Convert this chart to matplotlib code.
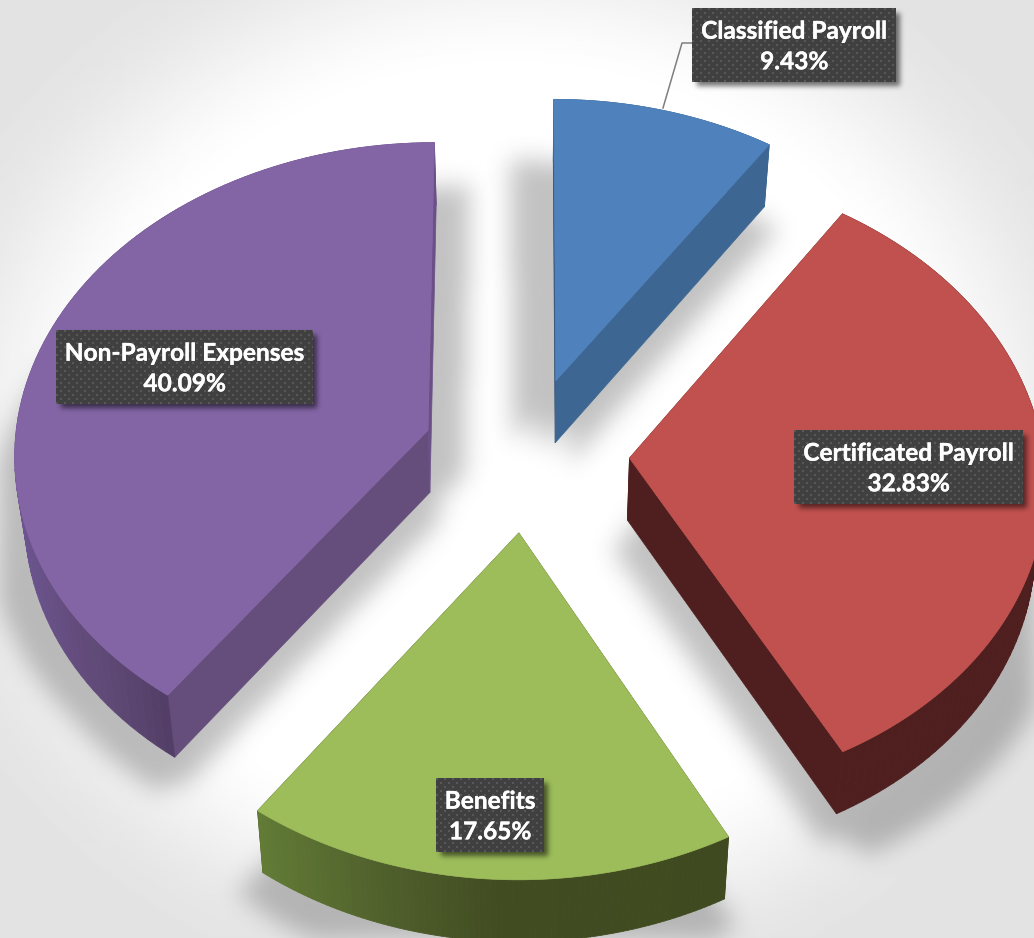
import numpy as np
import matplotlib
matplotlib.use("Agg")
import matplotlib.pyplot as plt
import matplotlib.patheffects as pe
from matplotlib.path import Path
from matplotlib.collections import PolyCollection
from matplotlib.patches import Polygon

# ---- data ----
categories = ["Classified Payroll", "Certificated Payroll", "Benefits", "Non-Payroll Expenses"]
shares = [9.43, 32.83, 17.65, 40.09]

# ---- styling ----
top_colors = ["#4F81BD", "#C1514E", "#9DBD5B", "#8365A5"]
start_cut = ["#2F4F73", "#4E1F1E", "#3F4A20", "#654E7C"]
end_cut = ["#3D6792", "#4E1F1E", "#3F4A20", "#6B5088"]
wall_stops = [
    ([0, 1034], ["#3D6792", "#3D6792"]),
    ([0, 1034], ["#4E1F1E", "#4E1F1E"]),
    ([258, 380, 500, 727], ["#627B36", "#50602C", "#414C21", "#3F4A20"]),
    ([13, 60, 120, 175, 178, 1034], ["#6C5490", "#654E80", "#5C4772", "#4F3B63", "#6B5088", "#6B5088"]),
]
shadow_shifts = [
    [(-42, 0), (-15, 10), (14, 22)],
    [(-14, 30), (14, 34), (30, 42)],
    [(-26, 22), (0, 40), (12, 28)],
    [(34, -18), (8, 30), (-14, 36), (-36, 12)],
]
label_boxes = [(692, 8, 896, 82), (794, 430, 1023, 504), (436, 778, 544, 852), (56, 330, 313, 404)]

W, H = 1034, 938
CX, CY, RX, RY, PERSP, EXPLODE = 526.0, 454.0, 414.0, 311.0, 0.07, 0.25
DEPTH, BOTTOM_SCALE = 62.0, 0.98


def project(X, Y):
    s = 1.0 / (1.0 + PERSP * Y)
    return CX + RX * X * s, CY - RY * Y * s


def to_bottom(x, y):
    return CX + (x - CX) * BOTTOM_SCALE, y + DEPTH


def hex_rgb(c):
    return np.array(matplotlib.colors.to_rgb(c))


def blur(a, sigma):
    h, w = a.shape
    fy = np.fft.fftfreq(h)[:, None]
    fx = np.fft.rfftfreq(w)[None, :]
    g = np.exp(-2 * (np.pi * sigma) ** 2 * (fx ** 2 + fy ** 2))
    return np.fft.irfft2(np.fft.rfft2(a) * g, s=a.shape)


# slice geometry derived from the values
total = sum(shares)
edges = np.concatenate([[0], np.cumsum(shares)]) / total * 2 * np.pi
slices = []
for i in range(len(shares)):
    a0, a1 = edges[i], edges[i + 1]
    mid = (a0 + a1) / 2
    ox, oy = EXPLODE * np.sin(mid), EXPLODE * np.cos(mid)
    th = np.linspace(a0, a1, 90)
    arc_x, arc_y = project(ox + np.sin(th), oy + np.cos(th))
    ax_, ay_ = project(ox, oy)
    slices.append(dict(arc_x=arc_x, arc_y=arc_y, apex=(ax_, ay_)))

# ---- background with soft shadows ----
STEP = 2
gx, gy = np.meshgrid(np.arange(0, W + 2, STEP), np.arange(0, H + 2, STEP))
t = np.hypot((gx - 510) / 520.0, (gy - 450) / 470.0)
u = np.clip((t - 0.78) / 0.42, 0, 1)
bg = 255 - 27 * u * u * (3 - 2 * u)
pts = np.column_stack([gx.ravel(), gy.ravel()])
pad = 64
shadow = np.zeros(gx.shape)
for i, s in enumerate(slices):
    bx, by = to_bottom(s["arc_x"], s["arc_y"])
    apx, apy = to_bottom(*s["apex"])
    px = np.r_[apx, bx]
    py = np.r_[apy, by]
    mask = np.zeros(gx.shape)
    for dx, dy in shadow_shifts[i]:
        p = Path(np.column_stack([px + dx, py + dy]))
        mask = np.maximum(mask, p.contains_points(pts).reshape(gx.shape).astype(float))
    m = np.pad(mask, pad, mode="constant")
    m = blur(m, 12.0 / STEP)[pad:-pad, pad:-pad]
    shadow = np.maximum(shadow, m)
bg = bg * (1 - 0.24 * np.clip(shadow, 0, 1))

fig = plt.figure(figsize=(W / 100, H / 100), dpi=100)
ax = fig.add_axes([0, 0, 1, 1])
ax.imshow(bg, cmap="gray", vmin=0, vmax=255, extent=(-1, W + 1, H + 1, -1),
          interpolation="bilinear", zorder=0, aspect="auto")

# ---- slices ----
for i, s in enumerate(slices):
    ax_, ay_ = s["apex"]
    ab = to_bottom(ax_, ay_)
    tx, ty = s["arc_x"], s["arc_y"]
    bx, by = to_bottom(tx, ty)
    # radial cut faces
    ax.add_patch(Polygon([(ax_, ay_), ab, (bx[0], by[0]), (tx[0], ty[0])],
                         fc=start_cut[i], ec=start_cut[i], lw=0.5, zorder=2))
    ax.add_patch(Polygon([(ax_, ay_), ab, (bx[-1], by[-1]), (tx[-1], ty[-1])],
                         fc=end_cut[i], ec=end_cut[i], lw=0.5, zorder=2))
    # rim wall as thin quads so it can carry a horizontal gradient
    xs, cols = wall_stops[i]
    rgb = np.array([hex_rgb(c) for c in cols])
    quads, colors = [], []
    for j in range(len(tx) - 1):
        quads.append([(tx[j], ty[j]), (tx[j + 1], ty[j + 1]), (bx[j + 1], by[j + 1]), (bx[j], by[j])])
        xm = (tx[j] + tx[j + 1]) / 2
        colors.append([np.interp(xm, xs, rgb[:, k]) for k in range(3)])
    ax.add_collection(PolyCollection(quads, facecolors=colors, edgecolors=colors, linewidths=0.6, zorder=3))
    # top face
    ax.add_patch(Polygon(np.column_stack([np.r_[ax_, tx], np.r_[ay_, ty]]),
                         fc=top_colors[i], ec=top_colors[i], lw=0.5, zorder=4))

# ---- leader line ----
ax.plot([692, 682, 663], [43, 43, 108], color="#7F7F7F", lw=1.1, zorder=3.5, solid_joinstyle="miter")

# ---- label box shadows ----
sh = np.zeros((H, W))
for x0, y0, x1, y1 in label_boxes:
    sh[y0 + 5:y1 + 4, x0 + 5:min(x1 + 4, W)] = 1
sh = blur(sh, 2.6)
rgba = np.zeros((H, W, 4))
rgba[..., 3] = np.clip(sh, 0, 1) * 0.55
ax.imshow(rgba, extent=(0, W, H, 0), zorder=5, aspect="auto", interpolation="bilinear")

# ---- label boxes and texts ----
for (x0, y0, x1, y1), name, val in zip(label_boxes, categories, shares):
    w, h = x1 - x0, y1 - y0
    yy, xx = np.mgrid[0:h, 0:w]
    dots = (((xx % 8 < 2) & (yy % 8 < 2)) | (((xx + 4) % 8 < 2) & ((yy + 4) % 8 < 2)))
    tile = np.where(dots, 0x58, 0x40) / 255.0
    ax.imshow(tile, cmap="gray", vmin=0, vmax=1, extent=(x0, x1, y1, y0),
              zorder=6, aspect="auto", interpolation="nearest")
    ax.text((x0 + x1) / 2, (y0 + y1) / 2 + 1.5, f"{name}\n{val:.2f}%", color="white", ha="center", va="center",
            fontsize=17.6, fontweight="bold", family="Lato", linespacing=1.4, zorder=7,
            path_effects=[pe.withStroke(linewidth=0.25, foreground="white")])

ax.set_xlim(0, W)
ax.set_ylim(H, 0)
ax.axis("off")
fig.savefig("out.png", dpi=100)
